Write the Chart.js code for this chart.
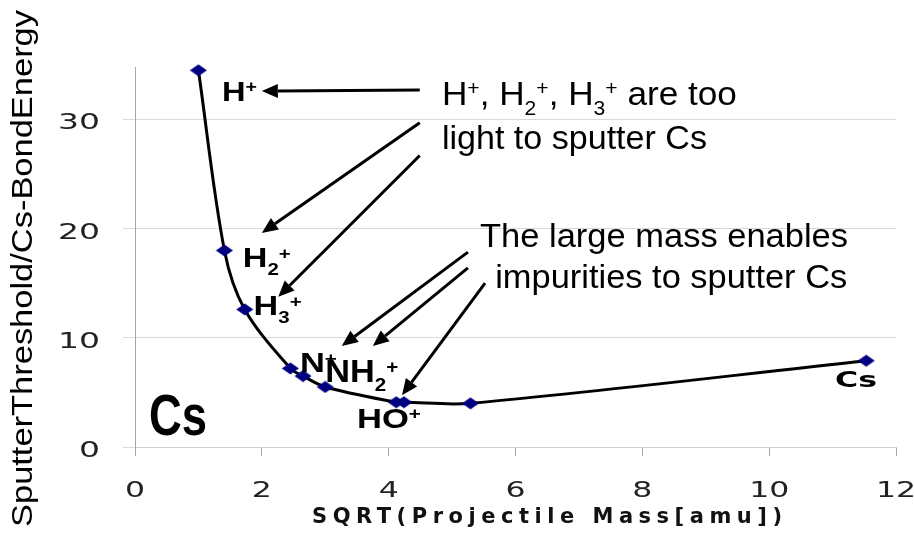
<!DOCTYPE html>
<html>
<head>
<meta charset="utf-8">
<script src="https://cdn.jsdelivr.net/npm/chart.js@4.4.1/dist/chart.umd.min.js"></script>
<style>
  html, body { margin: 0; padding: 0; background: #fff; }
  #wrap { width: 914px; height: 533px; }
</style>
</head>
<body>
<div id="wrap"><canvas id="sputterChart" width="914" height="533"></canvas></div>
<script>
// Data: x = SQRT(projectile mass), y = sputter threshold / Cs bond energy
const sqrtMass = [1.0, 1.41, 1.73, 2.45, 2.65, 3.0, 4.12, 4.24, 5.29, 11.53];
const thresholdRatio = [34.5, 18.0, 12.6, 7.2, 6.5, 5.5, 4.1, 4.1, 4.0, 7.9];
const xTicks = [0, 2, 4, 6, 8, 10, 12];
const yTicks = [0, 10, 20, 30];

const SANS = '"Liberation Sans", Arial, sans-serif';
const VERD = '"DejaVu Sans", Verdana, sans-serif';

// Ion labels, anchored in data units (left edge, baseline)
const ionLabels = [
    { parts: [['H'], ['+', 'sup']], x: 1.37, y: 31.7, size: 28, width: 35 },
    { parts: [['H'], ['2', 'sub'], ['+', 'sup']], x: 1.70, y: 16.5, size: 27, width: 48 },
    { parts: [['H'], ['3', 'sub'], ['+', 'sup']], x: 1.87, y: 12.1, size: 27, width: 48 },
    { parts: [['N'], ['+', 'sup']], x: 2.60, y: 6.9, size: 27, width: 37 },
    { parts: [['NH'], ['2', 'sub'], ['+', 'sup']], x: 3.00, y: 5.95, size: 31, width: 73 },
    { parts: [['HO'], ['+', 'sup']], x: 3.50, y: 1.75, size: 28, width: 64 }
];

// Explanatory notes
const notes = [
    { parts: [['H'], ['+', 'sup'], [', H'], ['2', 'sub'], ['+', 'sup'], [', H'], ['3', 'sub'], ['+', 'sup'], [' are too']], x: 4.84, y: 31.3, width: 295 },
    { parts: [['light to sputter Cs']], x: 4.84, y: 27.3, width: 265 },
    { parts: [['The large mass enables']], x: 5.44, y: 18.3, width: 368 },
    { parts: [['impurities to sputter Cs']], x: 5.68, y: 14.55, width: 352 }
];

// Arrows [fromX, fromY, toX, toY] in data units
const arrows = [
    [4.49, 32.7, 2.0, 32.6],
    [4.49, 29.7, 2.0, 19.6],
    [4.49, 26.7, 2.26, 13.75],
    [5.25, 17.85, 3.26, 9.25],
    [5.25, 16.4, 3.75, 9.25],
    [5.52, 15.0, 4.21, 4.75]
];

// Diamond marker (a bit wider than tall, as in the picture)
const diamond = document.createElement('canvas');
diamond.width = 18;
diamond.height = 13;
(function () {
    const d = diamond.getContext('2d');
    d.fillStyle = '#000080';
    d.beginPath();
    d.moveTo(9, 0.5);
    d.lineTo(17.5, 6.5);
    d.lineTo(9, 12.5);
    d.lineTo(0.5, 6.5);
    d.closePath();
    d.fill();
})();

function drawRich(ctx, parts, x, y, o) {
    const small = o.size * 0.6;
    const fontFor = k => (o.weight || 'normal') + ' ' + (k ? small : o.size) + 'px ' + (o.family || SANS);
    let natural = 0;
    parts.forEach(([t, k]) => {
        ctx.font = fontFor(k);
        natural += ctx.measureText(t).width;
    });
    const sx = o.width ? o.width / natural : 1;
    ctx.save();
    ctx.translate(x, y);
    ctx.scale(sx, 1);
    ctx.fillStyle = o.color || '#000';
    ctx.textAlign = 'left';
    ctx.textBaseline = 'alphabetic';
    let cx = 0;
    parts.forEach(([t, k]) => {
        ctx.font = fontFor(k);
        const dy = k === 'sup' ? -o.size * 0.3 : (k === 'sub' ? o.size * 0.3 : 0);
        ctx.fillText(t, cx, dy);
        cx += ctx.measureText(t).width;
    });
    ctx.restore();
}

function drawArrow(ctx, x1, y1, x2, y2) {
    const ang = Math.atan2(y2 - y1, x2 - x1);
    const head = 16, half = 7;
    const bx = x2 - head * Math.cos(ang), by = y2 - head * Math.sin(ang);
    ctx.beginPath();
    ctx.moveTo(x1, y1);
    ctx.lineTo(bx, by);
    ctx.stroke();
    ctx.beginPath();
    ctx.moveTo(x2, y2);
    ctx.lineTo(bx + half * Math.sin(ang), by - half * Math.cos(ang));
    ctx.lineTo(bx - half * Math.sin(ang), by + half * Math.cos(ang));
    ctx.closePath();
    ctx.fill();
}

// Tick labels, axis titles and annotations
const decorations = {
    id: 'decorations',
    afterDraw(chart) {
        const ctx = chart.ctx;
        const area = chart.chartArea;
        const xs = chart.scales.x, ys = chart.scales.y;

        ctx.save();
        ctx.fillStyle = '#222';
        ctx.textBaseline = 'alphabetic';

        // y tick labels
        ctx.font = '22px ' + VERD;
        ctx.textAlign = 'right';
        ys.ticks.forEach(t => {
            ctx.save();
            ctx.translate(area.left - 35, ys.getPixelForValue(t.value) + 10);
            ctx.scale(1.5, 1);
            ctx.fillText(String(t.value), 0, 0);
            ctx.restore();
        });

        // x tick labels
        ctx.font = '21px ' + VERD;
        ctx.textAlign = 'center';
        xs.ticks.forEach(t => {
            ctx.save();
            ctx.translate(xs.getPixelForValue(t.value), area.bottom + 50);
            ctx.scale(1.5, 1);
            ctx.fillText(String(t.value), 0, 0);
            ctx.restore();
        });

        // x title, letter spaced
        const xTitle = 'SQRT(Projectile Mass[amu])';
        ctx.font = 'bold 21px ' + VERD;
        ctx.textAlign = 'left';
        ctx.letterSpacing = '0px';
        const w0 = ctx.measureText(xTitle).width;
        ctx.letterSpacing = ((470 - w0) / (xTitle.length - 1)) + 'px';
        ctx.fillStyle = '#111';
        ctx.fillText(xTitle, area.left + 177, area.bottom + 76);
        ctx.letterSpacing = '0px';

        // y title, rotated
        ctx.save();
        ctx.translate(area.left - 103, area.bottom + 80);
        ctx.rotate(-Math.PI / 2);
        drawRich(ctx, [['SputterThreshold/Cs-BondEnergy']], 0, 0, { size: 30, width: 517 });
        ctx.restore();

        // arrows
        ctx.strokeStyle = '#000';
        ctx.fillStyle = '#000';
        ctx.lineWidth = 3;
        arrows.forEach(a => {
            drawArrow(ctx, xs.getPixelForValue(a[0]), ys.getPixelForValue(a[1]),
                xs.getPixelForValue(a[2]), ys.getPixelForValue(a[3]));
        });

        // ion labels
        ionLabels.forEach(l => {
            drawRich(ctx, l.parts, xs.getPixelForValue(l.x), ys.getPixelForValue(l.y),
                { size: l.size, weight: 'bold', width: l.width });
        });

        // notes
        notes.forEach(n => {
            drawRich(ctx, n.parts, xs.getPixelForValue(n.x), ys.getPixelForValue(n.y),
                { size: 33, width: n.width });
        });

        // Cs markers
        drawRich(ctx, [['Cs']], xs.getPixelForValue(11.04), ys.getPixelForValue(5.5),
            { size: 21, weight: 'bold', family: VERD, width: 42 });
        drawRich(ctx, [['Cs']], xs.getPixelForValue(0.22), ys.getPixelForValue(1.1),
            { size: 58, weight: 'bold', width: 58 });

        ctx.restore();
    }
};

const ctx = document.getElementById('sputterChart').getContext('2d');
const sputterChart = new Chart(ctx, {
    type: 'scatter',
    data: {
        datasets: [{
            data: sqrtMass.map((x, i) => ({ x: x, y: thresholdRatio[i] })),
            showLine: true,
            clip: false,
            borderColor: '#000',
            borderWidth: 3,
            tension: 0.33,
            pointStyle: diamond,
            pointRadius: 6,
            pointHoverRadius: 6
        }]
    },
    options: {
        responsive: false,
        animation: false,
        layout: { padding: { top: 67, right: 18, left: 0, bottom: 0 } },
        plugins: {
            legend: { display: false },
            tooltip: { enabled: false }
        },
        scales: {
            x: {
                type: 'linear',
                min: 0,
                max: 12,
                afterBuildTicks: s => { s.ticks = xTicks.map(v => ({ value: v })); },
                afterFit: s => { s.height = 86; },
                ticks: { display: false },
                grid: { drawOnChartArea: false, drawTicks: true, tickLength: 9, color: '#a6a6a6' },
                border: { color: '#d0d0d0', width: 1 }
            },
            y: {
                type: 'linear',
                min: 0,
                max: 34.8,
                afterBuildTicks: s => { s.ticks = yTicks.map(v => ({ value: v })); },
                afterFit: s => { s.width = 135; },
                ticks: { display: false },
                grid: { color: '#d9d9d9', tickLength: 12 },
                border: { color: '#a6a6a6', width: 1 }
            }
        }
    },
    plugins: [decorations]
});
</script>
</body>
</html>
